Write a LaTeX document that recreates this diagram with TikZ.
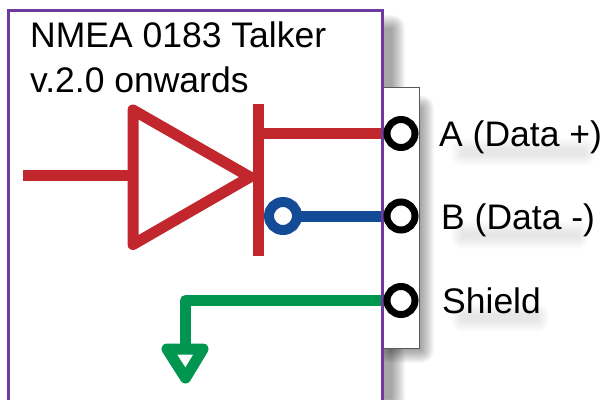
\documentclass[tikz,border=0pt]{standalone}
\usepackage{fontspec}
\setmainfont{Liberation Sans}
\usepackage{xcolor}
\usetikzlibrary{positioning}
\definecolor{drvred}{HTML}{C1272D}
\definecolor{busblue}{HTML}{144B96}
\definecolor{gndgreen}{HTML}{009650}
\definecolor{boxpurple}{HTML}{6F3A9E}
\pgfdeclarelayer{back}
\pgfdeclarelayer{wires}
\pgfsetlayers{back,wires,main}
\tikzset{
	wire/.style={line width=11pt, line join=round},
	terminal/.style={circle, draw=black, fill=white, line width=7pt, minimum size=28pt, inner sep=0pt, outer sep=0pt},
	pinlabel/.style={anchor=base west, inner sep=0pt, font=\fontsize{35.5}{42}\selectfont}
}
% soft shadow made of stacked translucent rectangles
\newcommand{\softshade}[6]{
	\foreach \b in {0,1,...,#5}
		\fill[black, opacity=#6, rounded corners=\b pt] (#1-\b,#2-\b) rectangle (#3+\b,#4+\b);
}
\begin{document}
\begin{tikzpicture}[x=1pt, y=-1pt]
	\clip (0,0) rectangle (601,399);

	\begin{pgfonlayer}{back}
		\fill[white] (0,0) rectangle (601,399);
		\softshade{20}{28}{392}{430}{13}{.026}
		\softshade{390}{108}{421}{350}{13}{.026}
		\softshade{462}{149}{585}{155}{11}{.009}
		\softshade{462}{232}{578}{238}{11}{.009}
		\softshade{462}{314}{538}{321}{11}{.009}
		\filldraw[fill=white, draw=black!65, line width=.8pt] (350,87) rectangle (419,348);
		\fill[white] (8,10) rectangle (382,430);
	\end{pgfonlayer}

	\draw[draw=boxpurple, line width=3pt] (8,10) rectangle (382,430);

	\node[terminal] (ta) at (401,133.5) {};
	\node[terminal] (tb) at (401,216) {};
	\node[terminal] (tc) at (401,300.5) {};
	\node[circle, draw=busblue, fill=white, line width=10pt, minimum size=28pt, inner sep=0pt, outer sep=0pt] (inv) at (283,216) {};

	\coordinate (in) at (23,175);
	\coordinate (drvtop) at (133,110);
	\coordinate (drvbot) at (133,244.5);
	\coordinate (drvtip) at (250,177);
	\coordinate (bartop) at (258.5,104);
	\coordinate (barbot) at (258.5,256);
	\coordinate (barpin) at (258.5,133.5);
	\coordinate (gndtop) at (185.5,349);
	\coordinate (gndleft) at (167,349);
	\coordinate (gndright) at (203,349);
	\coordinate (gndtip) at (185.5,378);

	\begin{pgfonlayer}{wires}
		\draw[wire, draw=drvred] (in) -- (133,175);
		\draw[wire, draw=drvred] (drvtop) -- (drvtip) -- (drvbot) -- cycle;
		\draw[wire, draw=drvred] (bartop) -- (barbot);
		\draw[wire, draw=drvred] (barpin) -- (ta);
		\draw[wire, draw=busblue] (inv) -- (tb);
		\draw[wire, draw=gndgreen] (tc) -| (gndtop);
		\draw[wire, draw=gndgreen] (gndleft) -- (gndright) -- (gndtip) -- cycle;
	\end{pgfonlayer}

	\node[pinlabel] (title) at (30,47) {NMEA 0183 Talker};
	\node[pinlabel] (version) at (30,92) {v.2.0 onwards};
	\node[pinlabel] (la) at (439,146) {A (Data +)};
	\node[pinlabel] (lb) at (441,229) {B (Data -)};
	\node[pinlabel] (lc) at (442,313) {Shield};
\end{tikzpicture}
\end{document}
